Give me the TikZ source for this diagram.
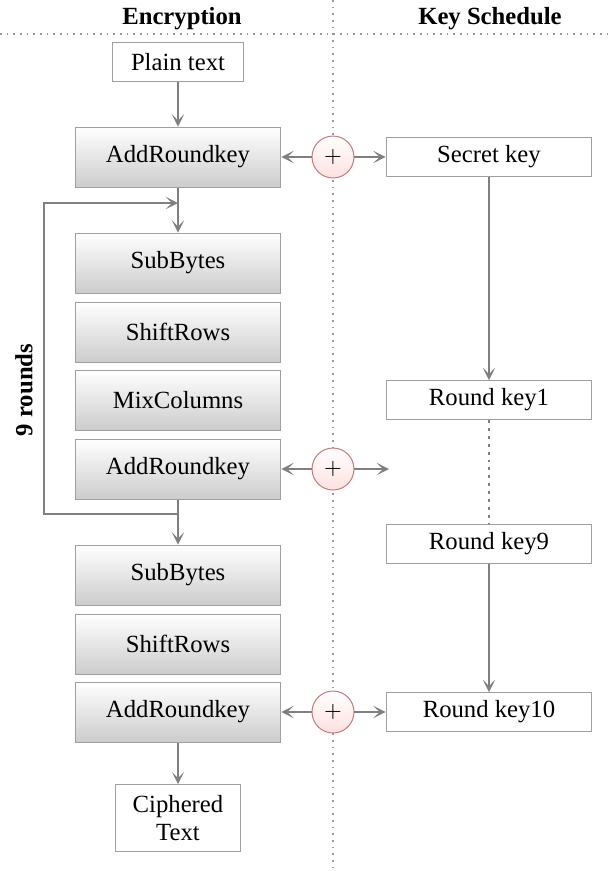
\documentclass[tikz,border=0pt]{standalone}
\usepackage{fontspec}
\setmainfont{Liberation Serif}
\usetikzlibrary{arrows.meta,shadings}

\definecolor{linegray}{HTML}{808080}
\definecolor{boxgray}{HTML}{A0A0A0}
\definecolor{xorred}{HTML}{C47A7A}

\tikzset{
  stepbox/.style={draw=boxgray, top color=white, bottom color=black!20,
                  minimum width=83.4pt, minimum height=24.3pt, inner sep=0pt},
  keybox/.style={draw=boxgray, fill=white,
                 minimum width=83.4pt, minimum height=15.8pt, inner sep=0pt},
  xorop/.style={circle, draw=xorred, top color=white, bottom color=red!12,
                minimum size=17pt, inner sep=0pt, font=\sffamily\small},
  arr/.style={draw=linegray, thick, -{Stealth[length=5pt,width=5pt,inset=2.6pt]}},
  divider/.style={draw=linegray!80, dotted, line width=0.7pt}
}

\begin{document}
\begin{tikzpicture}[x=0.405pt, y=-0.405pt]
    \useasboundingbox (0,0) rectangle (609,871);

    % dividers
    \draw [divider]  (0,34) --  (609,34);
    \draw [divider]  (333,0) --  (333,871);

    % titles
    \node [font=\bfseries] (enctitle) at (182,19) {Encryption};
    \node [font=\bfseries] (keytitle) at (490,19) {Key Schedule};

    % encryption steps
    \node [keybox, minimum width=53pt] (plain) at (178,62) {Plain text};
    \node [stepbox] (ark1)   at (178,157) {AddRoundkey};
    \node [stepbox] (sub1)   at (178,263) {SubBytes};
    \node [stepbox] (shift1) at (178,332) {ShiftRows};
    \node [stepbox] (mix)    at (178,400) {MixColumns};
    \node [stepbox] (ark2)   at (178,469) {AddRoundkey};
    \node [stepbox] (sub2)   at (178,575) {SubBytes};
    \node [stepbox] (shift2) at (178,644) {ShiftRows};
    \node [stepbox] (ark3)   at (178,712) {AddRoundkey};
    \node [keybox, minimum width=51pt, minimum height=27pt, align=center]
          (cipher) at (178,818) {Ciphered\\[-1pt]Text};

    % key schedule
    \node [keybox] (secret) at (489,157) {Secret key};
    \node [keybox] (rk1)    at (489,400) {Round key1};
    \node [keybox] (rk9)    at (489,544) {Round key9};
    \node [keybox] (rk10)   at (489,712) {Round key10};

    % xor
    \node [xorop] (x1) at (333,157) {+};
    \node [xorop] (x2) at (333,469) {+};
    \node [xorop] (x3) at (333,712) {+};
    \coordinate (x2out) at (389,469);

    % round loop
    \coordinate (looptop) at (178,203);
    \coordinate (loopbot) at (178,514);
    \node [font=\bfseries, rotate=90] (rounds) at (24,390) {9 rounds};

    % data path
    \draw [arr] (plain) -- (ark1);
    \draw [arr] (ark1) -- (sub1);
    \draw [arr] (ark2) -- (sub2);
    \draw [arr] (ark3) -- (cipher);
    \draw [arr] (loopbot) -- ++(-134,0) |- (looptop);

    % round keys
    \draw [arr] (x1) -- (ark1);
    \draw [arr] (x1) -- (secret);
    \draw [arr] (x2) -- (ark2);
    \draw [arr] (x2) -- (x2out);
    \draw [arr] (x3) -- (ark3);
    \draw [arr] (x3) -- (rk10);
    \draw [arr] (secret) -- (rk1);
    \draw [divider, draw=linegray, line width=1.2pt] (rk1) -- (rk9);
    \draw [arr] (rk9) -- (rk10);
\end{tikzpicture}
\end{document}
